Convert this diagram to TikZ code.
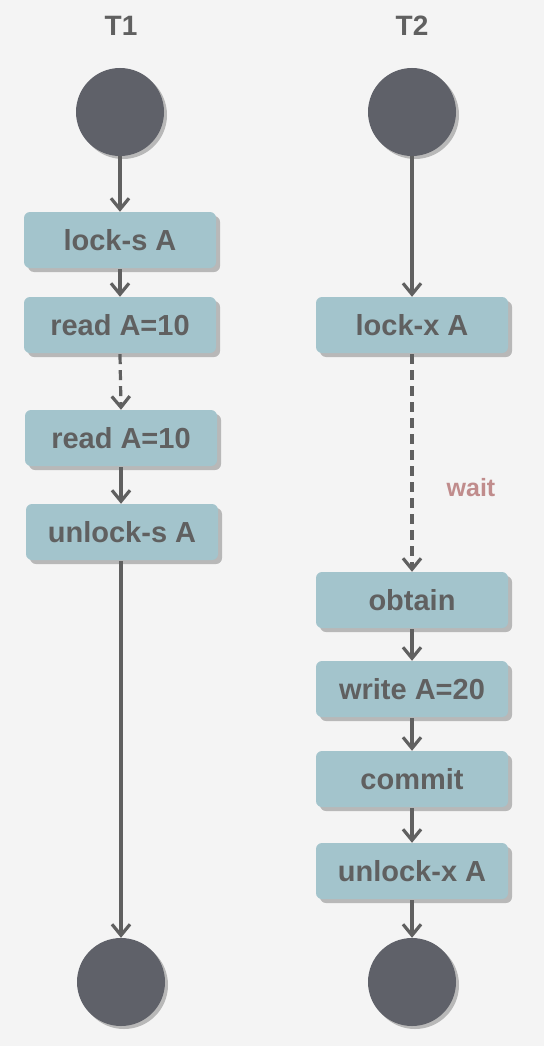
\documentclass[tikz,border=0pt]{standalone}
\usepackage{fontspec}
\setmainfont{Liberation Sans}
\usetikzlibrary{arrows.meta,shadows}
\definecolor{bg}{HTML}{F4F4F4}
\definecolor{boxfill}{HTML}{A3C4CC}
\definecolor{txt}{HTML}{606060}
\definecolor{dot}{HTML}{5F6169}
\definecolor{shade}{HTML}{B8B8B8}
\definecolor{waitc}{HTML}{C08C8C}
\tikzset{
  stepbox/.style={draw=none, fill=boxfill, rounded corners=6pt, minimum width=192pt, minimum height=56pt, inner sep=0pt,
    text=txt, font=\fontsize{29}{32}\selectfont\bfseries,
    drop shadow={shadow xshift=4pt, shadow yshift=-4pt, fill=shade, opacity=1}},
  dotnode/.style={circle, fill=dot, minimum size=88pt, inner sep=0pt,
    drop shadow={shadow xshift=3pt, shadow yshift=-3pt, fill=shade, opacity=1}},
  title/.style={text=txt, font=\fontsize{28}{30}\selectfont\bfseries},
  flow/.style={draw=txt, line width=3.2pt, -{Straight Barb[length=11pt,width=18pt,line width=3.2pt]}},
  waitflow/.style={flow, dash pattern=on 10pt off 6pt}
}
\begin{document}
\begin{tikzpicture}[x=1pt,y=-1pt]
\fill[bg] (0,0) rectangle (544,1046);
\useasboundingbox (0,0) rectangle (544,1046);
\node[title] (t1) at (121,26) {T1};
\node[title] (t2) at (412,26) {T2};
\node[dotnode] (s1) at (120,112) {};
\node[dotnode] (s2) at (412,112) {};
\node[dotnode] (e1) at (121,982) {};
\node[dotnode] (e2) at (412,982) {};
\node[stepbox] (lks) at (120,240) {lock-s A};
\node[stepbox] (rd1) at (120,325) {read A=10};
\node[stepbox] (rd2) at (121,438) {read A=10};
\node[stepbox] (uls) at (122,532) {unlock-s A};
\node[stepbox] (lkx) at (412,325) {lock-x A};
\node[stepbox] (obt) at (412,600) {obtain};
\node[stepbox] (wrt) at (412,689) {write A=20};
\node[stepbox] (cmt) at (412,779) {commit};
\node[stepbox] (ulx) at (412,871) {unlock-x A};
\node[text=waitc, font=\fontsize{25}{27}\selectfont\bfseries] (wt) at (471,488) {wait};
\draw[flow] (s1.south) -- (lks.north);
\draw[flow] ([yshift=-1pt]lks.south) -- (rd1.north);
\draw[waitflow] ([yshift=-1pt]rd1.south) -- (rd2.north);
\draw[flow] ([yshift=-1pt]rd2.south) -- (rd2.south |- uls.north);
\draw[flow] ([yshift=-1pt]uls.south -| e1.north) -- (e1.north);
\draw[flow] (s2.south) -- (lkx.north);
\draw[waitflow] ([yshift=-1pt]lkx.south) -- (obt.north);
\draw[flow] ([yshift=-1pt]obt.south) -- (wrt.north);
\draw[flow] ([yshift=-1pt]wrt.south) -- (cmt.north);
\draw[flow] ([yshift=-1pt]cmt.south) -- (ulx.north);
\draw[flow] ([yshift=-1pt]ulx.south) -- (e2.north);
\end{tikzpicture}
\end{document}
